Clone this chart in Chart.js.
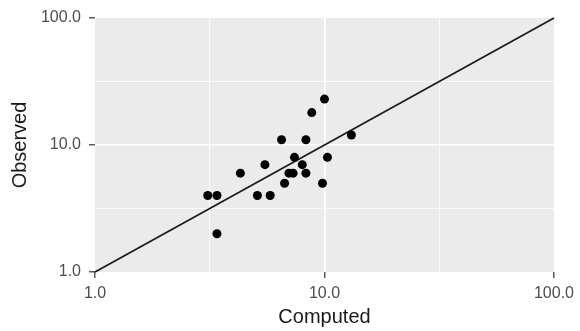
<!DOCTYPE html>
<html>
<head>
<meta charset="utf-8">
<script src="https://cdn.jsdelivr.net/npm/chart.js@4.4.0/dist/chart.umd.min.js"></script>
<style>
  html, body { margin: 0; padding: 0; background: #fff; }
  #wrap { width: 580px; height: 331px; }
</style>
</head>
<body>
<div id="wrap"><canvas id="scatterChart"></canvas></div>
<script>
// Observed vs computed values
const computed = [10.0, 8.8, 6.5, 8.3, 13.1, 7.4, 10.3, 5.5, 8.0, 4.3, 7.0, 7.3, 8.3, 6.7, 9.8, 3.1, 3.4, 5.1, 5.8, 3.4];
const observed = [23, 18, 11, 11, 12, 8, 8, 7, 7, 6, 6, 6, 6, 5, 5, 4, 4, 4, 4, 2];

// 1:1 reference line
const lineX = [1, 100];
const lineY = [1, 100];

// axis ticks: major ones get labels, minor ones only a grid line
const majorTicks = [1, 10, 100];
const minorTicks = [3.1623, 31.623];
const tickLabels = ['1.0', '10.0', '100.0'];

const allTicks = majorTicks.concat(minorTicks).sort((a, b) => a - b);
const isMajor = v => majorTicks.some(m => Math.abs(m - v) < 1e-6);
const labelFor = v => {
  const i = majorTicks.findIndex(m => Math.abs(m - v) < 1e-6);
  return i >= 0 ? tickLabels[i] : '';
};

const points = computed.map((x, i) => ({ x: x, y: observed[i] }));
const linePts = lineX.map((x, i) => ({ x: x, y: lineY[i] }));

// grey ggplot panel
const panelBg = {
  id: 'panelBg',
  beforeDraw(chart) {
    const { ctx, chartArea: a } = chart;
    ctx.save();
    ctx.fillStyle = '#ffffff';
    ctx.fillRect(0, 0, chart.width, chart.height);
    ctx.fillStyle = '#EBEBEB';
    ctx.fillRect(a.left, a.top, a.right - a.left, a.bottom - a.top);
    ctx.restore();
  }
};

const gridOpts = {
  color: ctx => {
    const v = ctx.tick ? ctx.tick.value : 0;
    if (v === 1 || v === 100) return 'rgba(0,0,0,0)';
    return '#ffffff';
  },
  lineWidth: ctx => (ctx.tick && isMajor(ctx.tick.value)) ? 1.6 : 0.8,
  tickColor: ctx => (ctx.tick && isMajor(ctx.tick.value)) ? '#333333' : 'rgba(0,0,0,0)',
  tickWidth: 1.2,
  tickLength: 6,
  drawTicks: true,
  drawOnChartArea: true
};

const ctx = document.getElementById('scatterChart').getContext('2d');
const scatterChart = new Chart(ctx, {
  type: 'scatter',
  data: {
    datasets: [{
      label: 'Observed',
      data: points,
      backgroundColor: '#000000',
      borderWidth: 0,
      pointRadius: 4.5,
      pointHoverRadius: 4.5
    }, {
      type: 'line',
      label: '1:1',
      data: linePts,
      borderColor: '#1a1a1a',
      borderWidth: 1.7,
      pointRadius: 0,
      fill: false,
      clip: false
    }]
  },
  options: {
    responsive: true,
    maintainAspectRatio: false,
    animation: false,
    events: [],
    layout: { padding: { top: 18, right: 25, left: 0, bottom: 0 } },
    plugins: {
      legend: { display: false },
      tooltip: { enabled: false }
    },
    scales: {
      x: {
        type: 'logarithmic',
        min: 1,
        max: 100,
        afterBuildTicks: s => { s.ticks = allTicks.map(v => ({ value: v })); },
        afterFit: s => { s.height = 59; },
        border: { display: false },
        grid: gridOpts,
        ticks: {
          autoSkip: false,
          maxRotation: 0,
          padding: 6,
          color: '#4D4D4D',
          font: { family: 'Liberation Sans, Arial, sans-serif', size: 16 },
          callback: v => labelFor(v)
        },
        title: {
          display: true,
          text: 'Computed',
          color: '#1a1a1a',
          padding: { top: 0, bottom: 2 },
          font: { family: 'Liberation Sans, Arial, sans-serif', size: 20 }
        }
      },
      y: {
        type: 'logarithmic',
        min: 1,
        max: 100,
        afterBuildTicks: s => { s.ticks = allTicks.map(v => ({ value: v })); },
        afterFit: s => { s.width = 95; },
        border: { display: false },
        grid: gridOpts,
        ticks: {
          autoSkip: false,
          padding: 8,
          color: '#4D4D4D',
          font: { family: 'Liberation Sans, Arial, sans-serif', size: 16 },
          callback: v => labelFor(v)
        },
        title: {
          display: true,
          text: 'Observed',
          color: '#1a1a1a',
          padding: { top: 8, bottom: 0 },
          font: { family: 'Liberation Sans, Arial, sans-serif', size: 20 }
        }
      }
    }
  },
  plugins: [panelBg]
});
</script>
</body>
</html>
